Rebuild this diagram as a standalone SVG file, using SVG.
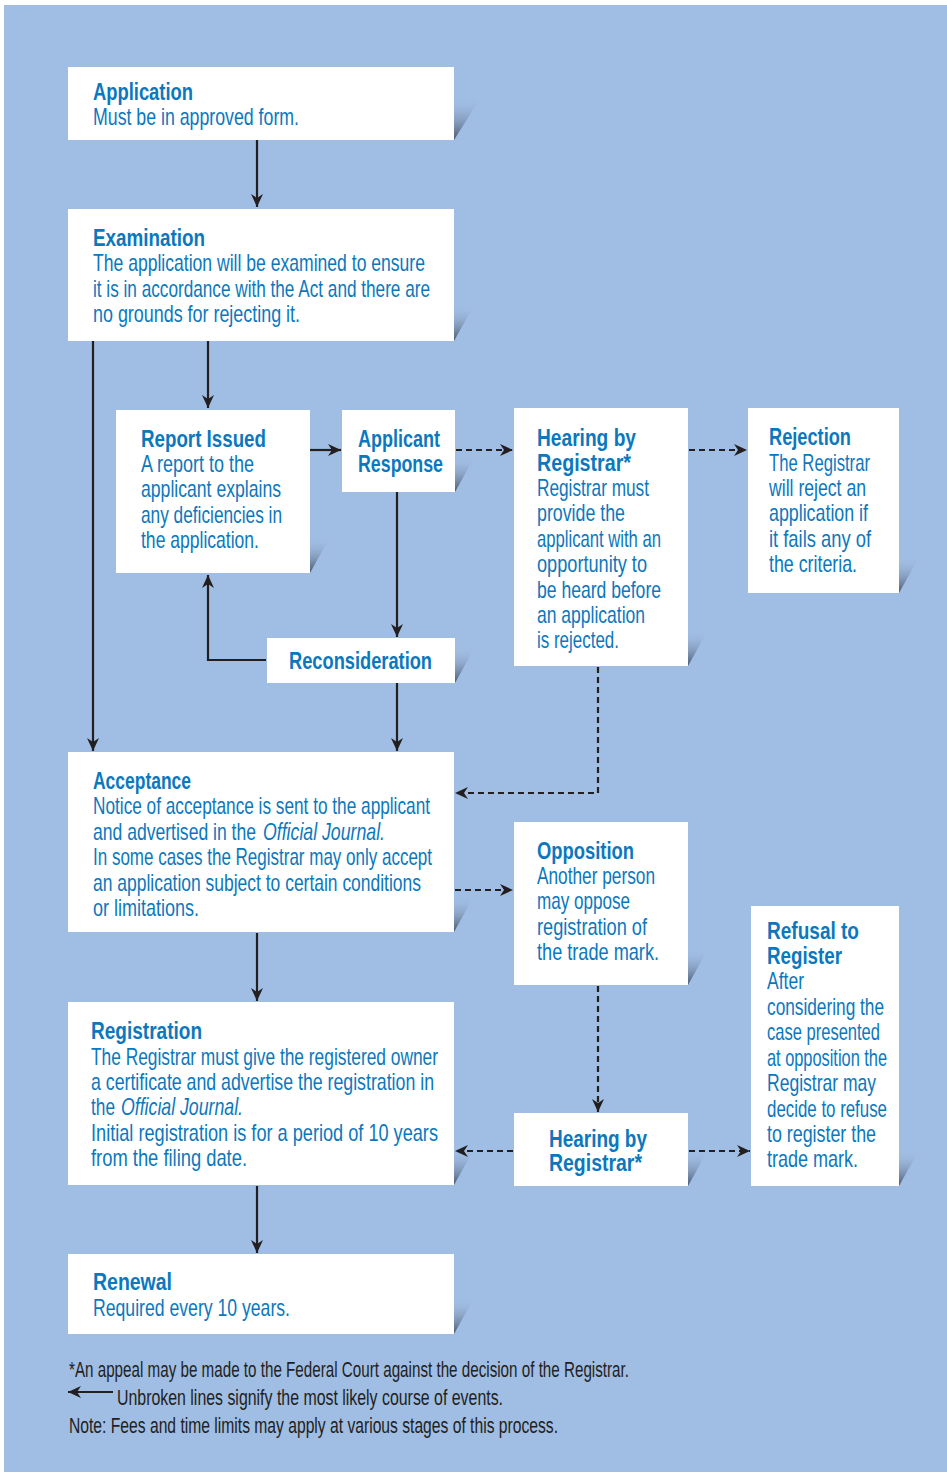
<svg xmlns="http://www.w3.org/2000/svg" xmlns:xlink="http://www.w3.org/1999/xlink" width="947" height="1472" viewBox="0 0 947 1472">
  <style>
    .bg { fill: #a0bde3; }
    .box { fill: #ffffff; }
    .h { font-family: "Liberation Sans", Arial, sans-serif; font-size: 24px; font-weight: bold; fill: #0b78be; }
    .b { font-family: "Liberation Sans", Arial, sans-serif; font-size: 24px; fill: #0b78be; }
    .i { font-style: italic; }
    .note { font-family: "Liberation Sans", Arial, sans-serif; font-size: 22px; fill: #231f20; }
    .solid { fill: none; stroke: #231f20; stroke-width: 2.2; marker-end: url(#head); }
    .dash { fill: none; stroke: #231f20; stroke-width: 2.2; stroke-dasharray: 6 4; marker-end: url(#head); }
  </style>
  <defs>
    <linearGradient id="shadeGrad" x1="0" y1="0" x2="0" y2="1">
      <stop offset="0" stop-color="#a0bde3" stop-opacity="0"/>
      <stop offset="1" stop-color="#4a566d" stop-opacity="1"/>
    </linearGradient>
    <path id="shade" d="M0,-36 L20,-36 L0,0 Z" fill="url(#shadeGrad)"/>
    <path id="shadeBig" d="M0,-43 L27,-43 L0,0 Z" fill="url(#shadeGrad)"/>
    <marker id="head" viewBox="-14 -7 15 14" refX="0" refY="0" markerWidth="15" markerHeight="14" markerUnits="userSpaceOnUse" orient="auto">
      <path d="M0,0 L-13,-6 L-9,0 L-13,6 Z" fill="#231f20"/>
    </marker>
  </defs>

  <rect class="bg" x="4" y="5" width="943" height="1467"/>

  <!-- corner shading behind the boxes -->
  <g id="shading">
    <use xlink:href="#shadeBig" x="454" y="140"/>
    <use xlink:href="#shade" x="454" y="341"/>
    <use xlink:href="#shade" x="310" y="573"/>
    <use xlink:href="#shade" x="455" y="492"/>
    <use xlink:href="#shade" x="688" y="666"/>
    <use xlink:href="#shade" x="899" y="593"/>
    <use xlink:href="#shade" x="455" y="683"/>
    <use xlink:href="#shade" x="454" y="932"/>
    <use xlink:href="#shade" x="688" y="985"/>
    <use xlink:href="#shade" x="899" y="1186"/>
    <use xlink:href="#shade" x="454" y="1185"/>
    <use xlink:href="#shade" x="688" y="1186"/>
    <use xlink:href="#shade" x="454" y="1334"/>
  </g>

  <g id="connectors">
    <path class="solid" d="M257,140 V207"/>
    <path class="solid" d="M208,341 V408"/>
    <path class="solid" d="M93,341 V751"/>
    <path class="solid" d="M310,450 H341"/>
    <path class="solid" d="M397,492 V637"/>
    <path class="solid" d="M266,660 H208 V575"/>
    <path class="solid" d="M397,683 V751"/>
    <path class="solid" d="M257,933 V1001"/>
    <path class="solid" d="M257,1186 V1253"/>
    <path class="dash" d="M456,450 H513"/>
    <path class="dash" d="M689,450 H747"/>
    <path class="dash" d="M598,667 V793 H455"/>
    <path class="dash" d="M455,890 H513"/>
    <path class="dash" d="M598,986 V1112"/>
    <path class="dash" d="M513,1151 H455"/>
    <path class="dash" d="M689,1151 H750"/>
  </g>

  <g id="application">
    <rect class="box" x="68" y="67" width="386" height="73"/>
    <text class="h" x="93" y="100" textLength="100" lengthAdjust="spacingAndGlyphs">Application</text>
    <text class="b" x="93" y="125" textLength="206" lengthAdjust="spacingAndGlyphs">Must be in approved form.</text>
  </g>

  <g id="examination">
    <rect class="box" x="68" y="209" width="386" height="132"/>
    <text class="h" x="93" y="246" textLength="112" lengthAdjust="spacingAndGlyphs">Examination</text>
    <text class="b" x="93" y="271" textLength="332" lengthAdjust="spacingAndGlyphs">The application will be examined to ensure</text>
    <text class="b" x="93" y="297" textLength="337" lengthAdjust="spacingAndGlyphs">it is in accordance with the Act and there are</text>
    <text class="b" x="93" y="322" textLength="207" lengthAdjust="spacingAndGlyphs">no grounds for rejecting it.</text>
  </g>

  <g id="report-issued">
    <rect class="box" x="116" y="410" width="194" height="163"/>
    <text class="h" x="141" y="447" textLength="125" lengthAdjust="spacingAndGlyphs">Report Issued</text>
    <text class="b" x="141" y="472" textLength="113" lengthAdjust="spacingAndGlyphs">A report to the</text>
    <text class="b" x="141" y="497" textLength="140" lengthAdjust="spacingAndGlyphs">applicant explains</text>
    <text class="b" x="141" y="523" textLength="141" lengthAdjust="spacingAndGlyphs">any deficiencies in</text>
    <text class="b" x="141" y="548" textLength="118" lengthAdjust="spacingAndGlyphs">the application.</text>
  </g>

  <g id="applicant-response">
    <rect class="box" x="342" y="410" width="113" height="82"/>
    <text class="h" x="358" y="447" textLength="82" lengthAdjust="spacingAndGlyphs">Applicant</text>
    <text class="h" x="358" y="472" textLength="85" lengthAdjust="spacingAndGlyphs">Response</text>
  </g>

  <g id="hearing-1">
    <rect class="box" x="514" y="408" width="174" height="258"/>
    <text class="h" x="537" y="446" textLength="99" lengthAdjust="spacingAndGlyphs">Hearing by</text>
    <text class="h" x="537" y="471" textLength="94" lengthAdjust="spacingAndGlyphs">Registrar*</text>
    <text class="b" x="537" y="496" textLength="112" lengthAdjust="spacingAndGlyphs">Registrar must</text>
    <text class="b" x="537" y="521" textLength="88" lengthAdjust="spacingAndGlyphs">provide the</text>
    <text class="b" x="537" y="547" textLength="124" lengthAdjust="spacingAndGlyphs">applicant with an</text>
    <text class="b" x="537" y="572" textLength="110" lengthAdjust="spacingAndGlyphs">opportunity to</text>
    <text class="b" x="537" y="598" textLength="124" lengthAdjust="spacingAndGlyphs">be heard before</text>
    <text class="b" x="537" y="623" textLength="108" lengthAdjust="spacingAndGlyphs">an application</text>
    <text class="b" x="537" y="648" textLength="82" lengthAdjust="spacingAndGlyphs">is rejected.</text>
  </g>

  <g id="rejection">
    <rect class="box" x="748" y="408" width="151" height="185"/>
    <text class="h" x="769" y="445" textLength="82" lengthAdjust="spacingAndGlyphs">Rejection</text>
    <text class="b" x="769" y="471" textLength="101" lengthAdjust="spacingAndGlyphs">The Registrar</text>
    <text class="b" x="769" y="496" textLength="97" lengthAdjust="spacingAndGlyphs">will reject an</text>
    <text class="b" x="769" y="521" textLength="99" lengthAdjust="spacingAndGlyphs">application if</text>
    <text class="b" x="769" y="547" textLength="102" lengthAdjust="spacingAndGlyphs">it fails any of</text>
    <text class="b" x="769" y="572" textLength="88" lengthAdjust="spacingAndGlyphs">the criteria.</text>
  </g>

  <g id="reconsideration">
    <rect class="box" x="267" y="638" width="188" height="45"/>
    <text class="h" x="289" y="669" textLength="143" lengthAdjust="spacingAndGlyphs">Reconsideration</text>
  </g>

  <g id="acceptance">
    <rect class="box" x="68" y="752" width="386" height="180"/>
    <text class="h" x="93" y="789" textLength="98" lengthAdjust="spacingAndGlyphs">Acceptance</text>
    <text class="b" x="93" y="814" textLength="337" lengthAdjust="spacingAndGlyphs">Notice of acceptance is sent to the applicant</text>
    <text class="b" x="93" y="840" textLength="163" lengthAdjust="spacingAndGlyphs">and advertised in the</text>
    <text class="b i" x="263" y="840" textLength="122" lengthAdjust="spacingAndGlyphs">Official Journal.</text>
    <text class="b" x="93" y="865" textLength="339" lengthAdjust="spacingAndGlyphs">In some cases the Registrar may only accept</text>
    <text class="b" x="93" y="891" textLength="328" lengthAdjust="spacingAndGlyphs">an application subject to certain conditions</text>
    <text class="b" x="93" y="916" textLength="106" lengthAdjust="spacingAndGlyphs">or limitations.</text>
  </g>

  <g id="opposition">
    <rect class="box" x="514" y="822" width="174" height="163"/>
    <text class="h" x="537" y="859" textLength="97" lengthAdjust="spacingAndGlyphs">Opposition</text>
    <text class="b" x="537" y="884" textLength="118" lengthAdjust="spacingAndGlyphs">Another person</text>
    <text class="b" x="537" y="909" textLength="93" lengthAdjust="spacingAndGlyphs">may oppose</text>
    <text class="b" x="537" y="935" textLength="110" lengthAdjust="spacingAndGlyphs">registration of</text>
    <text class="b" x="537" y="960" textLength="122" lengthAdjust="spacingAndGlyphs">the trade mark.</text>
  </g>

  <g id="refusal">
    <rect class="box" x="751" y="906" width="148" height="280"/>
    <text class="h" x="767" y="939" textLength="92" lengthAdjust="spacingAndGlyphs">Refusal to</text>
    <text class="h" x="767" y="964" textLength="75" lengthAdjust="spacingAndGlyphs">Register</text>
    <text class="b" x="767" y="989" textLength="37" lengthAdjust="spacingAndGlyphs">After</text>
    <text class="b" x="767" y="1015" textLength="117" lengthAdjust="spacingAndGlyphs">considering the</text>
    <text class="b" x="767" y="1040" textLength="113" lengthAdjust="spacingAndGlyphs">case presented</text>
    <text class="b" x="767" y="1066" textLength="120" lengthAdjust="spacingAndGlyphs">at opposition the</text>
    <text class="b" x="767" y="1091" textLength="109" lengthAdjust="spacingAndGlyphs">Registrar may</text>
    <text class="b" x="767" y="1117" textLength="120" lengthAdjust="spacingAndGlyphs">decide to refuse</text>
    <text class="b" x="767" y="1142" textLength="109" lengthAdjust="spacingAndGlyphs">to register the</text>
    <text class="b" x="767" y="1167" textLength="91" lengthAdjust="spacingAndGlyphs">trade mark.</text>
  </g>

  <g id="registration">
    <rect class="box" x="68" y="1002" width="386" height="183"/>
    <text class="h" x="91" y="1039" textLength="111" lengthAdjust="spacingAndGlyphs">Registration</text>
    <text class="b" x="91" y="1065" textLength="347" lengthAdjust="spacingAndGlyphs">The Registrar must give the registered owner</text>
    <text class="b" x="91" y="1090" textLength="343" lengthAdjust="spacingAndGlyphs">a certificate and advertise the registration in</text>
    <text class="b" x="91" y="1115" textLength="24" lengthAdjust="spacingAndGlyphs">the</text>
    <text class="b i" x="121" y="1115" textLength="122" lengthAdjust="spacingAndGlyphs">Official Journal.</text>
    <text class="b" x="91" y="1141" textLength="347" lengthAdjust="spacingAndGlyphs">Initial registration is for a period of 10 years</text>
    <text class="b" x="91" y="1166" textLength="156" lengthAdjust="spacingAndGlyphs">from the filing date.</text>
  </g>

  <g id="hearing-2">
    <rect class="box" x="514" y="1113" width="174" height="73"/>
    <text class="h" x="549" y="1147" textLength="98" lengthAdjust="spacingAndGlyphs">Hearing by</text>
    <text class="h" x="549" y="1171" textLength="93" lengthAdjust="spacingAndGlyphs">Registrar*</text>
  </g>

  <g id="renewal">
    <rect class="box" x="68" y="1254" width="386" height="80"/>
    <text class="h" x="93" y="1290" textLength="79" lengthAdjust="spacingAndGlyphs">Renewal</text>
    <text class="b" x="93" y="1316" textLength="197" lengthAdjust="spacingAndGlyphs">Required every 10 years.</text>
  </g>

  <g id="notes">
    <text class="note" x="69" y="1377" textLength="560" lengthAdjust="spacingAndGlyphs">*An appeal may be made to the Federal Court against the decision of the Registrar.</text>
    <path class="solid" d="M113,1392 H68"/>
    <text class="note" x="117" y="1405" textLength="386" lengthAdjust="spacingAndGlyphs">Unbroken lines signify the most likely course of events.</text>
    <text class="note" x="69" y="1433" textLength="489" lengthAdjust="spacingAndGlyphs">Note: Fees and time limits may apply at various stages of this process.</text>
  </g>
</svg>
